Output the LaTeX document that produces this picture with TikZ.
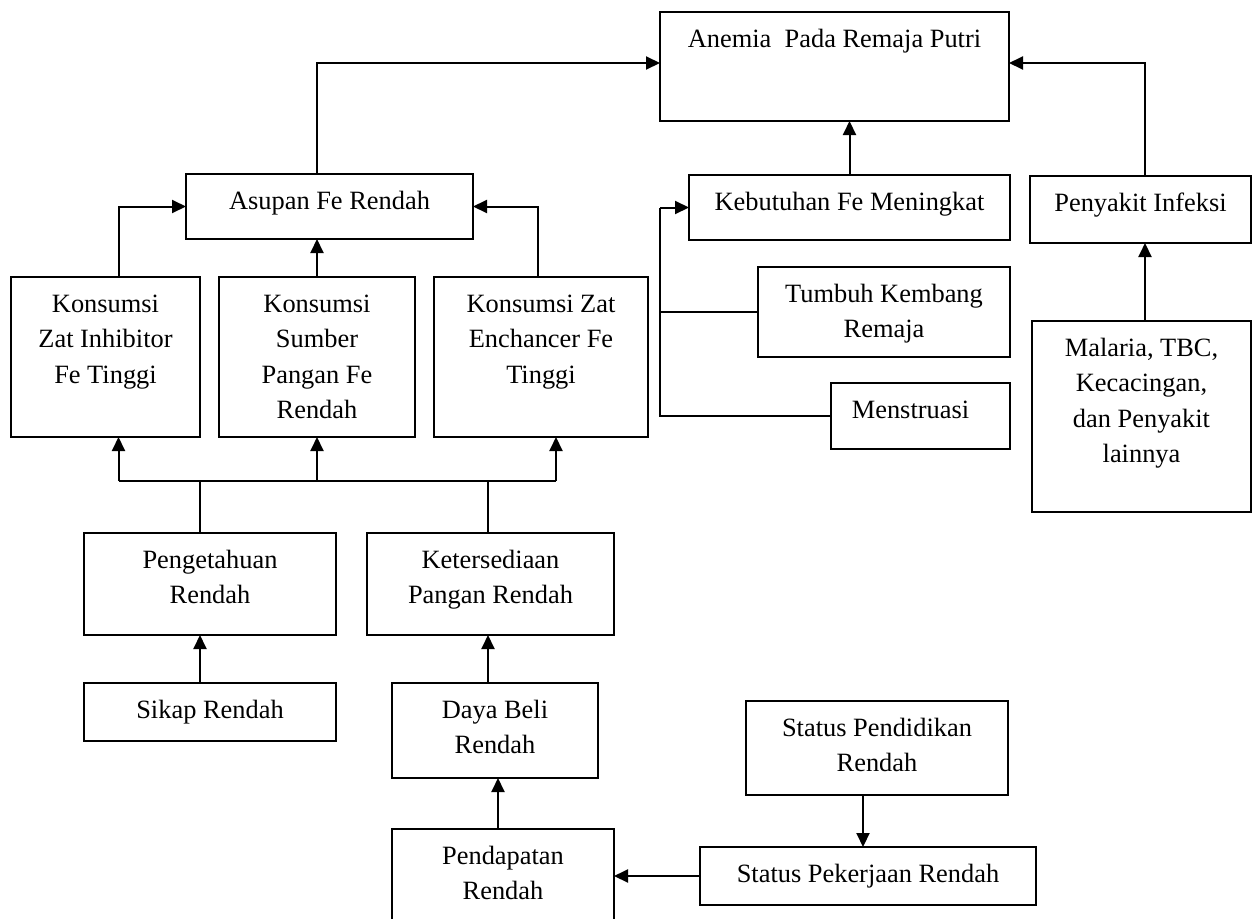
\documentclass[tikz,border=0pt]{standalone}
\usepackage{fontspec}
\setmainfont{Liberation Serif}
\usetikzlibrary{arrows.meta}
\tikzset{
  kotak/.style={draw, line width=1.3pt, inner sep=0pt, outer sep=0pt, anchor=north west,
    font=\fontsize{26.4}{35.5}\selectfont},
  garis/.style={line width=1.3pt},
  panah/.style={line width=2pt, -{Triangle[length=14pt,width=13pt]}}
}
% isi kotak: lebar, tinggi, teks (rata atas)
\newcommand{\isi}[3]{\parbox[t][#2pt][t]{#1pt}{\centering\rule{0pt}{35pt}#3}}
\begin{document}
\begin{tikzpicture}[x=1pt, y=-1pt]
        \clip (0,0) rectangle (1252,918);
        % kotak-kotak
        \node[kotak] (anemia) at (660,12) {\isi{349}{109}{Anemia\ \ Pada Remaja Putri}};
        \node[kotak] (asupan) at (186,174) {\isi{287}{65}{Asupan Fe Rendah}};
        \node[kotak] (kons1) at (11,277) {\isi{189}{160}{Konsumsi\\Zat Inhibitor\\Fe Tinggi}};
        \node[kotak] (kons2) at (219,277) {\isi{196}{160}{Konsumsi\\Sumber\\Pangan Fe\\Rendah}};
        \node[kotak] (kons3) at (434,277) {\isi{214}{160}{Konsumsi Zat\\Enchancer Fe\\Tinggi}};
        \node[kotak] (butuh) at (689,175) {\isi{321}{65}{Kebutuhan Fe Meningkat}};
        \node[kotak] (infeksi) at (1030,176) {\isi{221}{67}{Penyakit Infeksi}};
        \node[kotak] (tumbuh) at (758,267) {\isi{252}{90}{Tumbuh Kembang\\Remaja}};
        \node[kotak] (mens) at (831,383) {\isi{179}{66}{Menstruasi\hspace*{20pt}}};
        \node[kotak] (malaria) at (1032,321) {\isi{219}{191}{Malaria, TBC,\\Kecacingan,\\dan Penyakit\\lainnya}};
        \node[kotak] (tahu) at (84,533) {\isi{252}{102}{Pengetahuan\\Rendah}};
        \node[kotak] (sedia) at (367,533) {\isi{247}{102}{Ketersediaan\\Pangan Rendah}};
        \node[kotak] (sikap) at (84,683) {\isi{252}{58}{Sikap Rendah}};
        \node[kotak] (daya) at (392,683) {\isi{206}{95}{Daya Beli\\Rendah}};
        \node[kotak] (dapat) at (392,829) {\isi{222}{110}{Pendapatan\\Rendah}};
        \node[kotak] (didik) at (746,701) {\isi{262}{94}{Status Pendidikan\\Rendah}};
        \node[kotak] (kerja) at (700,847) {\isi{336}{58}{Status Pekerjaan Rendah}};
        \coordinate (bus) at (0,481);
        % ke anemia
        \draw[panah] (kons2.north |- asupan.north) |- ([yshift=3.5pt]anemia.west);
        \draw[panah] (butuh.north) -- (butuh.north |- anemia.south);
        \draw[panah] ([xshift=4.5pt]infeksi.north) |- ([yshift=3.5pt]anemia.east);
        \draw[panah] ([xshift=3.5pt]malaria.north) -- ([xshift=3.5pt]malaria.north |- infeksi.south);
        % ke asupan
        \draw[panah] ([xshift=13pt]kons1.north) |- (asupan.west);
        \draw[panah] (kons2.north) -- (kons2.north |- asupan.south);
        \draw[panah] ([xshift=-3pt]kons3.north) |- (asupan.east);
        % ke kebutuhan
        \draw[panah] (anemia.west |- butuh.west) -- (butuh.west);
        \draw[garis] (mens.west) -| (anemia.west |- butuh.west);
        \draw[garis] (tumbuh.west) -- (tumbuh.west -| anemia.west);
        % ke konsumsi
        \draw[garis] ([xshift=13pt]kons1.south |- bus) -- ([xshift=15pt]kons3.south |- bus);
        \draw[panah] ([xshift=13pt]kons1.south |- bus) -- ([xshift=13pt]kons1.south);
        \draw[panah] (kons2.south |- bus) -- (kons2.south);
        \draw[panah] ([xshift=15pt]kons3.south |- bus) -- ([xshift=15pt]kons3.south);
        \draw[garis] ([xshift=-10pt]tahu.north) -- ([xshift=-10pt]tahu.north |- bus);
        \draw[garis] ([xshift=-2.5pt]sedia.north) -- ([xshift=-2.5pt]sedia.north |- bus);
        % bagian bawah
        \draw[panah] ([xshift=-10pt]sikap.north) -- ([xshift=-10pt]tahu.south);
        \draw[panah] ([xshift=-7pt]daya.north) -- ([xshift=-7pt]daya.north |- sedia.south);
        \draw[panah] ([xshift=-5pt]dapat.north) -- ([xshift=-5pt]dapat.north |- daya.south);
        \draw[panah] ([xshift=-14pt]didik.south) -- ([xshift=-14pt]didik.south |- kerja.north);
        \draw[panah] (kerja.west) -- (kerja.west -| dapat.east);
\end{tikzpicture}
\end{document}
